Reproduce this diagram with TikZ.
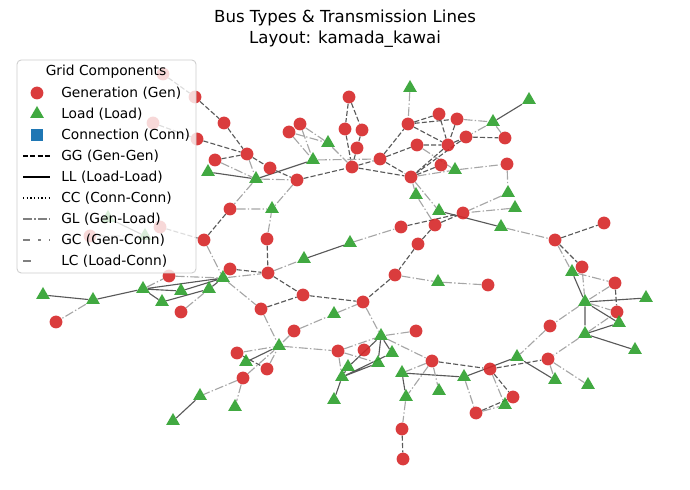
\documentclass[tikz,border=0pt]{standalone}
\usepackage{fontspec}
\setmainfont{DejaVu Sans}
\usetikzlibrary{shapes.geometric,backgrounds}

\definecolor{genred}{RGB}{214,39,40}
\definecolor{loadgreen}{RGB}{44,160,44}
\definecolor{connblue}{RGB}{31,119,180}

\begin{document}
\begin{tikzpicture}[
    x=0.025cm, y=-0.025cm,
    genbus/.style={
        circle,
        fill=genred,
        fill opacity=0.9,
        inner sep=0pt,
        minimum size=0.32cm
    },
    loadbus/.style={
        regular polygon,
        regular polygon sides=3,
        fill=loadgreen,
        fill opacity=0.9,
        inner sep=0pt,
        minimum size=0.4cm
    },
    gglink/.style={draw=black!65, line width=0.8pt, dash pattern=on 3.6pt off 1.6pt},
    lllink/.style={draw=black!65, line width=0.8pt},
    gllink/.style={draw=black!35, line width=0.8pt, dash pattern=on 6.3pt off 1.6pt on 1pt off 1.6pt},
    legtext/.style={anchor=west, inner sep=0pt, font=\fontsize{9.8}{11}\selectfont}
]
    \useasboundingbox (0,0) rectangle (690,490);

    % Title
    \node[align=center, font=\fontsize{11.8}{14.9}\selectfont] (title) at (345,28.5)
        {Bus Types \& Transmission Lines\\Layout: kamada\_kawai};

    % Generation buses
    \node[genbus] (g1) at (163,74) {};
    \node[genbus] (g2) at (195,97) {};
    \node[genbus] (g3) at (153,123) {};
    \node[genbus] (g4) at (224,123) {};
    \node[genbus] (g5) at (197,139) {};
    \node[genbus] (g6) at (247,154) {};
    \node[genbus] (g7) at (215,160) {};
    \node[genbus] (g8) at (270,168) {};
    \node[genbus] (g9) at (297,180) {};
    \node[genbus] (g10) at (289,132) {};
    \node[genbus] (g11) at (300,124) {};
    \node[genbus] (g12) at (349,97) {};
    \node[genbus] (g13) at (345,129) {};
    \node[genbus] (g14) at (362,130) {};
    \node[genbus] (g15) at (357,148) {};
    \node[genbus] (g16) at (352,167) {};
    \node[genbus] (g17) at (380,159) {};
    \node[genbus] (g18) at (411,177) {};
    \node[genbus] (g19) at (408,124) {};
    \node[genbus] (g20) at (439,114) {};
    \node[genbus] (g21) at (457,119) {};
    \node[genbus] (g22) at (417,145) {};
    \node[genbus] (g23) at (448,145) {};
    \node[genbus] (g24) at (466,137) {};
    \node[genbus] (g25) at (441,165) {};
    \node[genbus] (g26) at (505,138) {};
    \node[genbus] (g27) at (507,164) {};
    \node[genbus] (g28) at (463,213) {};
    \node[genbus] (g29) at (435,225) {};
    \node[genbus] (g30) at (418,244) {};
    \node[genbus] (g31) at (401,227) {};
    \node[genbus] (g32) at (395,275) {};
    \node[genbus] (g33) at (488,285) {};
    \node[genbus] (g34) at (230,209) {};
    \node[genbus] (g35) at (204,240) {};
    \node[genbus] (g36) at (267,239) {};
    \node[genbus] (g37) at (90,236) {};
    \node[genbus] (g38) at (160,227) {};
    \node[genbus] (g39) at (230,269) {};
    \node[genbus] (g40) at (268,273) {};
    \node[genbus] (g41) at (56,322) {};
    \node[genbus] (g42) at (181,312) {};
    \node[genbus] (g43) at (261,309) {};
    \node[genbus] (g44) at (303,295) {};
    \node[genbus] (g45) at (363,302) {};
    \node[genbus] (g46) at (294,331) {};
    \node[genbus] (g47) at (416,331) {};
    \node[genbus] (g48) at (237,353) {};
    \node[genbus] (g49) at (243,378) {};
    \node[genbus] (g50) at (267,369) {};
    \node[genbus] (g51) at (338,351) {};
    \node[genbus] (g52) at (364,350) {};
    \node[genbus] (g53) at (432,361) {};
    \node[genbus] (g54) at (490,369) {};
    \node[genbus] (g55) at (548,359) {};
    \node[genbus] (g56) at (513,397) {};
    \node[genbus] (g57) at (476,413) {};
    \node[genbus] (g58) at (402,429) {};
    \node[genbus] (g59) at (403,459) {};
    \node[genbus] (g60) at (555,240) {};
    \node[genbus] (g61) at (604,223) {};
    \node[genbus] (g62) at (582,267) {};
    \node[genbus] (g63) at (615,283) {};
    \node[genbus] (g64) at (617,312) {};
    \node[genbus] (g65) at (550,326) {};
    \node[genbus] (g66) at (169,276) {};

    % Load buses
    \node[loadbus] (l1) at (208,172) {};
    \node[loadbus] (l2) at (256,179) {};
    \node[loadbus] (l3) at (328,143) {};
    \node[loadbus] (l4) at (313,160) {};
    \node[loadbus] (l5) at (410,88) {};
    \node[loadbus] (l6) at (455,170) {};
    \node[loadbus] (l7) at (493,122) {};
    \node[loadbus] (l8) at (529,100) {};
    \node[loadbus] (l9) at (508,193) {};
    \node[loadbus] (l10) at (515,208) {};
    \node[loadbus] (l11) at (416,195) {};
    \node[loadbus] (l12) at (439,211) {};
    \node[loadbus] (l13) at (501,227) {};
    \node[loadbus] (l14) at (350,243) {};
    \node[loadbus] (l15) at (438,282) {};
    \node[loadbus] (l16) at (272,209) {};
    \node[loadbus] (l17) at (145,236) {};
    \node[loadbus] (l18) at (304,259) {};
    \node[loadbus] (l19) at (223,278) {};
    \node[loadbus] (l20) at (209,289) {};
    \node[loadbus] (l21) at (181,291) {};
    \node[loadbus] (l22) at (162,302) {};
    \node[loadbus] (l23) at (143,289) {};
    \node[loadbus] (l24) at (93,300) {};
    \node[loadbus] (l25) at (43,295) {};
    \node[loadbus] (l26) at (334,314) {};
    \node[loadbus] (l27) at (381,336) {};
    \node[loadbus] (l28) at (279,346) {};
    \node[loadbus] (l29) at (246,362) {};
    \node[loadbus] (l30) at (200,396) {};
    \node[loadbus] (l31) at (173,421) {};
    \node[loadbus] (l32) at (235,407) {};
    \node[loadbus] (l33) at (392,353) {};
    \node[loadbus] (l34) at (348,367) {};
    \node[loadbus] (l35) at (378,363) {};
    \node[loadbus] (l36) at (342,377) {};
    \node[loadbus] (l37) at (334,400) {};
    \node[loadbus] (l38) at (402,373) {};
    \node[loadbus] (l39) at (406,397) {};
    \node[loadbus] (l40) at (439,391) {};
    \node[loadbus] (l41) at (464,377) {};
    \node[loadbus] (l42) at (517,357) {};
    \node[loadbus] (l43) at (555,380) {};
    \node[loadbus] (l44) at (588,385) {};
    \node[loadbus] (l45) at (505,405) {};
    \node[loadbus] (l46) at (572,272) {};
    \node[loadbus] (l47) at (585,302) {};
    \node[loadbus] (l48) at (646,298) {};
    \node[loadbus] (l49) at (619,323) {};
    \node[loadbus] (l50) at (585,334) {};
    \node[loadbus] (l51) at (635,350) {};
    \node[loadbus] (l52) at (108,218) {};

    % Lines
    \begin{scope}[on background layer]
        % Gen-Gen
        \draw[gglink] (g1) -- (g2) (g2) -- (g4) (g4) -- (g6) (g3) -- (g5) (g5) -- (g6)
            (g7) -- (g6) (g6) -- (g8) (g8) -- (g9) (g9) -- (g16) (g12) -- (g13)
            (g12) -- (g14) (g14) -- (g15) (g13) -- (g16) (g15) -- (g16) (g16) -- (g17)
            (g16) -- (g18) (g17) -- (g18) (g17) -- (g19) (g17) -- (g22) (g19) -- (g20)
            (g19) -- (g21) (g19) -- (g23) (g20) -- (g23) (g21) -- (g23) (g22) -- (g23)
            (g23) -- (g24) (g24) -- (g26) (g23) -- (g18) (g24) -- (g18) (g25) -- (g18)
            (g31) -- (g28) (g29) -- (g28) (g30) -- (g29) (g30) -- (g32) (g32) -- (g45)
            (g44) -- (g45) (g43) -- (g44) (g40) -- (g44) (g39) -- (g40) (g36) -- (g40)
            (g34) -- (g35) (g38) -- (g35) (g48) -- (g50) (g53) -- (g54) (g54) -- (g55)
            (g54) -- (g56) (g56) -- (g57) (g58) -- (g59) (g60) -- (g61) (g60) -- (g62)
            (g63) -- (g64);
        % Load-Load
        \draw[lllink] (l1) -- (l2) (l2) -- (l4) (l7) -- (l8) (l12) -- (l13) (l14) -- (l18)
            (l25) -- (l24) (l24) -- (l23) (l23) -- (l21) (l23) -- (l22) (l22) -- (l20)
            (l21) -- (l19) (l23) -- (l19) (l20) -- (l19) (l29) -- (l28) (l30) -- (l31)
            (l27) -- (l34) (l27) -- (l33) (l27) -- (l35) (l36) -- (l33) (l36) -- (l35)
            (l36) -- (l34) (l36) -- (l37) (l38) -- (l41) (l38) -- (l39) (l41) -- (l42)
            (l42) -- (l43) (l46) -- (l47) (l47) -- (l48) (l47) -- (l49) (l47) -- (l50)
            (l50) -- (l49) (l50) -- (l51) (l52) -- (l17);
        % Gen-Load
        \draw[gllink] (g7) -- (l2) (g6) -- (l2) (l2) -- (g9) (l2) -- (g34) (g9) -- (l16)
            (g10) -- (l3) (g11) -- (l3) (g10) -- (l4) (g11) -- (l4) (l3) -- (g16)
            (l4) -- (g17) (l5) -- (g19) (g21) -- (l7) (l7) -- (g26) (l7) -- (g24)
            (g22) -- (l6) (g18) -- (l6) (l6) -- (g27) (g27) -- (l9) (g18) -- (l11)
            (g18) -- (l12) (l9) -- (g28) (l10) -- (g28) (l11) -- (g29) (l13) -- (g60)
            (l14) -- (g31) (g32) -- (l15) (l15) -- (g33) (g34) -- (l16) (g36) -- (l16)
            (g35) -- (l19) (g40) -- (l18) (l19) -- (g40) (l19) -- (g43) (g66) -- (l19)
            (l23) -- (g66) (g37) -- (l17) (l24) -- (g41) (g42) -- (l20) (g43) -- (l28)
            (g46) -- (l28) (g46) -- (l26) (l26) -- (g45) (g45) -- (l27) (g47) -- (l27)
            (g48) -- (l28) (g50) -- (l28) (g49) -- (l28) (l28) -- (g51) (g49) -- (l30)
            (g49) -- (l32) (g51) -- (l27) (g51) -- (l36) (g51) -- (l35) (l27) -- (g53)
            (g53) -- (l38) (g53) -- (l39) (g53) -- (l40) (l39) -- (g58) (l41) -- (g57)
            (g57) -- (l45) (g54) -- (l45) (g65) -- (l42) (l47) -- (g65) (l50) -- (g55)
            (g55) -- (l43) (g55) -- (l44) (g60) -- (l46) (g62) -- (l47) (l46) -- (g63)
            (g63) -- (l47) (l47) -- (g64) (l50) -- (g64);
    \end{scope}

    % Legend
    \draw[rounded corners=3pt, draw=black!20, line width=0.6pt, fill=white, fill opacity=0.8]
        (17,60) rectangle (196,273);
    \node[font=\fontsize{9.8}{11}\selectfont] (legtitle) at (106,72) {Grid Components};
    \node[genbus] (leggen) at (37,93) {};
    \node[legtext] at (61,93) {Generation (Gen)};
    \node[loadbus] (legload) at (37,114) {};
    \node[legtext] at (61,114) {Load (Load)};
    \node[rectangle, fill=connblue, inner sep=0pt, minimum size=0.3cm] (legconn) at (37,135) {};
    \node[legtext] at (61,135) {Connection (Conn)};
    \draw[black, line width=1.4pt, dash pattern=on 3.6pt off 1.6pt] (23,156) -- (50,156);
    \node[legtext] at (61,156) {GG (Gen-Gen)};
    \draw[black, line width=1.4pt] (23,177) -- (50,177);
    \node[legtext] at (61,177) {LL (Load-Load)};
    \draw[black, line width=1.4pt, dash pattern=on 1pt off 1.6pt] (23,198) -- (50,198);
    \node[legtext] at (61,198) {CC (Conn-Conn)};
    \draw[gray, line width=1.4pt, dash pattern=on 6.3pt off 1.6pt on 1pt off 1.6pt] (23,219) -- (50,219);
    \node[legtext] at (61,219) {GL (Gen-Load)};
    \draw[gray, line width=1.4pt, dash pattern=on 5pt off 6pt on 1.5pt off 6pt] (23,240) -- (50,240);
    \node[legtext] at (61,240) {GC (Gen-Conn)};
    \draw[gray, line width=1.4pt, dash pattern=on 6pt off 14pt] (23,261) -- (50,261);
    \node[legtext] at (61,261) {LC (Load-Conn)};
\end{tikzpicture}
\end{document}
